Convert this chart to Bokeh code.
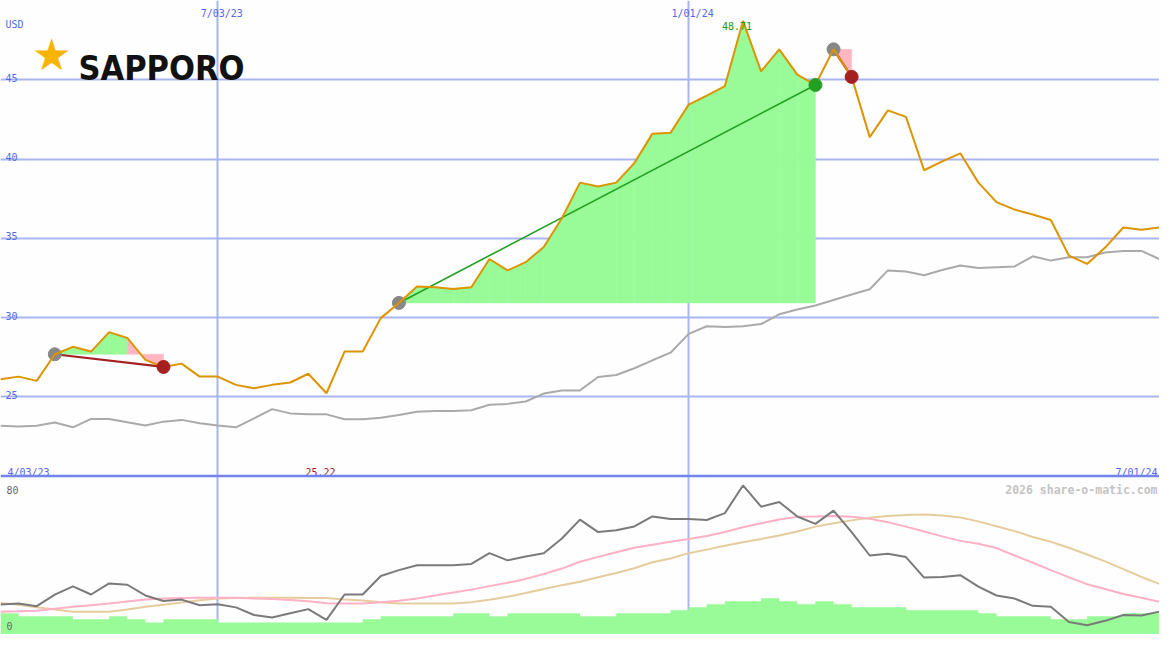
import pandas as pd
from bokeh.plotting import figure
from bokeh.models import Range1d, Span, FixedTicker, Grid
from bokeh.core.properties import value
from bokeh.embed import file_html
from bokeh.resources import INLINE

# ---------------- data ----------------
dates = pd.date_range("2023-04-10", periods=65, freq="7D")

price = [26.10, 26.27, 26.00, 27.68, 28.15, 27.85, 29.08, 28.71, 27.33, 26.88,
         27.09, 26.27, 26.27, 25.75, 25.53, 25.75, 25.90, 26.45, 25.22, 27.85,
         27.85, 29.96, 30.92, 31.95, 31.91, 31.80, 31.91, 33.69, 32.97, 33.49,
         34.45, 36.26, 38.51, 38.27, 38.51, 39.74, 41.60, 41.65, 43.43, 44.00,
         44.60, 48.71, 45.53, 46.92, 45.32, 44.67, 46.92, 45.18, 41.38, 43.07,
         42.66, 39.29, 39.85, 40.36, 38.51, 37.28, 36.81, 36.50, 36.15, 33.90,
         33.38, 34.41, 35.68, 35.54, 35.68]

compare = [23.17, 23.13, 23.17, 23.37, 23.07, 23.60, 23.60, 23.39, 23.19, 23.43,
           23.54, 23.33, 23.19, 23.07, 23.64, 24.22, 23.95, 23.89, 23.89, 23.58,
           23.58, 23.68, 23.85, 24.05, 24.10, 24.10, 24.15, 24.50, 24.55, 24.70,
           25.20, 25.40, 25.40, 26.25, 26.37, 26.80, 27.30, 27.78, 28.97, 29.45,
           29.40, 29.45, 29.59, 30.20, 30.50, 30.76, 31.10, 31.45, 31.78, 32.97,
           32.90, 32.67, 33.00, 33.28, 33.12, 33.17, 33.22, 33.86, 33.59, 33.80,
           33.80, 34.10, 34.20, 34.20, 33.69]

oscillator = [15.4, 15.9, 14.5, 20.4, 24.7, 20.5, 26.2, 25.5, 20.0, 17.2,
              17.9, 15.0, 15.5, 13.9, 10.0, 8.7, 10.9, 13.0, 7.5, 20.5,
              20.5, 30.0, 33.0, 35.5, 35.5, 35.5, 36.2, 41.7, 38.0, 40.0,
              41.7, 49.2, 58.9, 52.5, 53.4, 55.4, 60.5, 59.2, 59.2, 58.7,
              62.2, 76.4, 65.5, 67.9, 60.5, 56.7, 63.5, 52.5, 40.5, 41.4,
              39.7, 29.2, 29.5, 30.4, 24.5, 20.0, 18.4, 14.7, 14.2, 6.4,
              4.7, 7.0, 10.0, 9.7, 11.7]

avg_fast = [11.7, 11.9, 12.2, 13.2, 14.2, 15.0, 15.9, 16.9, 17.9, 18.4,
            18.7, 18.9, 18.9, 18.8, 18.5, 18.2, 17.7, 17.0, 16.0, 15.9,
            15.9, 16.5, 17.3, 18.5, 20.0, 21.5, 23.0, 24.8, 26.5, 28.5,
            31.0, 33.8, 37.3, 39.8, 42.2, 44.5, 46.0, 47.5, 48.9, 50.5,
            52.5, 55.0, 57.0, 58.9, 60.3, 60.5, 60.8, 60.3, 59.3, 57.5,
            55.3, 52.8, 50.3, 48.0, 46.5, 44.3, 40.5, 36.8, 33.0, 29.3,
            25.8, 23.3, 20.8, 18.8, 16.7]

avg_slow = [16.2, 15.3, 14.0, 12.8, 11.7, 11.7, 11.7, 12.8, 14.2, 15.3,
            16.4, 17.5, 18.4, 18.7, 18.9, 18.9, 18.8, 18.7, 18.7, 18.0,
            17.4, 16.5, 15.9, 15.9, 15.9, 15.9, 16.5, 17.8, 19.3, 21.3,
            23.3, 25.3, 27.0, 29.3, 31.5, 34.0, 37.0, 39.0, 41.7, 43.5,
            45.5, 47.3, 49.0, 50.8, 52.8, 55.3, 57.0, 58.5, 59.8, 60.8,
            61.3, 61.5, 61.0, 60.0, 58.0, 55.5, 53.0, 50.0, 47.5, 44.5,
            41.0, 37.5, 33.5, 29.5, 25.9]

volume = [10.9, 9.3, 9.3, 9.3, 7.8, 7.8, 9.3, 7.8, 6.2, 7.8,
          7.8, 7.8, 6.2, 6.2, 6.2, 6.2, 6.2, 6.2, 6.2, 6.2,
          7.8, 9.3, 9.3, 9.3, 9.3, 10.9, 10.9, 9.3, 10.9, 10.9,
          10.9, 10.9, 9.3, 9.3, 10.9, 10.9, 10.9, 12.4, 14.0, 15.5,
          17.1, 17.1, 18.6, 17.1, 15.5, 17.1, 15.5, 14.0, 14.0, 14.0,
          12.4, 12.4, 12.4, 12.4, 10.9, 9.3, 9.3, 9.3, 7.8, 7.8,
          9.3, 9.3, 10.9, 10.9, 10.9]

buy_idx = [3, 22, 46]
sell_idx = [9, 45, 47]

price_ticks = [25, 30, 35, 40, 45]
price_tick_labels = ["25", "30", "35", "40", "45"]
date_ticks = ["2023-07-03", "2024-01-01"]
date_tick_labels = ["7/03/23", "1/01/24"]
first_label = "4/03/23"
last_label = "7/01/24"
max_label = "48.71"
min_label = "25.22"

# ---------------- figure ----------------
W, H = 1159, 634
SX, SY = W / 1175.0, H / 650.0
BG = "#fdfefd"
BLUE = "#5566ee"
MONO = value("DejaVu Sans Mono")

p = figure(width=W, height=H, x_axis_type="datetime",
           x_range=Range1d(dates[0], dates[-1]), y_range=Range1d(10, 50),
           x_axis_location=None, y_axis_location=None,
           output_backend="svg", toolbar_location=None, min_border=0,
           background_fill_color=BG, border_fill_color=BG, outline_line_color=None)
p.extra_y_ranges = {"ind": Range1d(0, 325)}
p.xgrid.visible = False
p.ygrid.visible = False

grid_color = "#a9b4f2"
date_ms = [pd.Timestamp(d).value // 10**6 for d in date_ticks]
p.add_layout(Grid(dimension=0, ticker=FixedTicker(ticks=date_ms),
                  grid_line_color=grid_color, grid_line_width=2))
p.add_layout(Grid(dimension=1, ticker=FixedTicker(ticks=price_ticks),
                  grid_line_color=grid_color, grid_line_width=2))

# ---- trade fills ----
GREEN_FILL = "#98fb98"
PINK_FILL = "#ffb6c1"
xs, ys, cols = [], [], []
for b, s in zip(buy_idx, sell_idx):
    lvl = price[b]
    for k in range(b, s):
        xs.append([dates[k], dates[k + 1], dates[k + 1], dates[k]])
        ys.append([price[k], price[k + 1], lvl, lvl])
        cols.append(GREEN_FILL if price[k + 1] >= lvl else PINK_FILL)
p.patches(xs, ys, fill_color=cols, line_color=cols, line_width=0.5)

# ---- comparison line and price ----
p.line(dates, compare, line_color="#aaaaaa", line_width=2)

# ---- trade lines ----
for b, s in zip(buy_idx, sell_idx):
    win = price[s] >= price[b]
    c = "#22a022" if win else "#a52020"
    p.line([dates[b], dates[s]], [price[b], price[s]], line_color=c,
           line_width=1.6 if win else 2.2)

p.scatter([dates[i] for i in buy_idx], [price[i] for i in buy_idx],
          size=13, color="#888888")
p.line(dates, price, line_color="#dc9400", line_width=2)
p.scatter([dates[i] for i in sell_idx], [price[i] for i in sell_idx], size=13,
          color=["#22a022" if price[s] >= price[b] else "#a52020"
                 for b, s in zip(buy_idx, sell_idx)])

# ---- lower panel ----
p.varea_step(x=dates, y1=[0] * len(volume), y2=volume, step_mode="after",
             fill_color="#98fb98", y_range_name="ind")
p.line(dates, avg_slow, line_color="#e6cc9c", line_width=2, y_range_name="ind")
p.line(dates, avg_fast, line_color="#ffb0c6", line_width=2, y_range_name="ind")
p.line(dates, oscillator, line_color="#7a7a7a", line_width=2, y_range_name="ind")

p.add_layout(Span(location=20, dimension="width", line_color="#7384ee",
                  line_width=2.5))


def label(txt, ax, ay, dx, dy, color=BLUE, size="10px", align="left",
          font=MONO, style="normal"):
    p.text(x=[ax], y=[ay], text=[txt], x_offset=dx * SX, y_offset=dy * SY,
           text_font=font, text_font_size=size, text_color=color,
           text_align=align, text_baseline="alphabetic", text_font_style=style)


x0, x1 = dates[0], dates[-1]
label("USD", x0, 50, 5, 25)
for v, t in zip(price_ticks, price_tick_labels):
    p.text(x=[x0], y=[v], text=[t], x_offset=5 * SX, y_offset=-2,
           text_font=MONO, text_font_size="10px", text_color=BLUE,
           text_baseline="alphabetic")
for d, t in zip(date_ticks, date_tick_labels):
    label(t, pd.Timestamp(d), 50, 4, 13, align="center")
label(first_label, x0, 20, 7, -4)
label(last_label, x1, 20, -2, -4, align="right")
imax = price.index(max(price))
imin = price.index(min(price))
label(max_label, dates[imax], 50, -6, 26, color="#229922", align="center")
label(min_label, dates[imin], 20, -6, -4, color="#a52020", align="center")
label("2026 share-o-matic.com", x1, 20, -2, 14, color="#c4c4c4",
      size="11.5px", align="right", style="bold")
label("80", x0, 20, 6, 14, color="#666666")
label("0", x0, 10, 6, -9, color="#666666")

# logo
p.text(x=[x0], y=[50], text=["\u2605"], x_offset=52 * SX, y_offset=55 * SY,
       text_font=value("DejaVu Sans"), text_font_size="44px",
       text_color="#f8b400", text_align="center", text_baseline="middle")
label("SAPPORO", x0, 50, 79, 69, color="#111111", size="34px",
      font=value("DejaVu Sans Condensed"), style="bold")

open("out.html", "w").write(file_html(p, INLINE))
